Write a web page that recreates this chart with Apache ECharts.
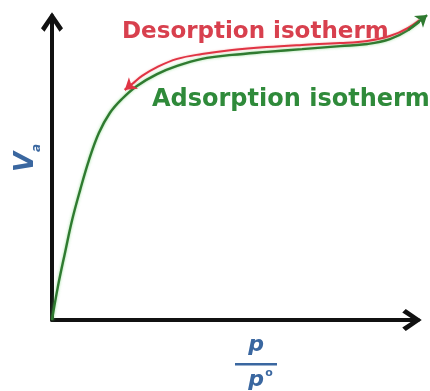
<!DOCTYPE html>
<html>
<head>
<meta charset="utf-8">
<script src="https://cdn.jsdelivr.net/npm/echarts@6/dist/echarts.min.js"></script>
<style>
  html, body { margin: 0; padding: 0; background: #ffffff; }
  #chart { width: 430px; height: 391px; }
</style>
</head>
<body>
<div id="chart"></div>
<script>
// Relative pressure p/p° (x) and adsorbed volume Va (y), both normalised to the axis length.
const adsorptionX = [0, 0.016, 0.036, 0.055, 0.077, 0.101, 0.128, 0.158, 0.191, 0.232, 0.287, 0.342, 0.410, 0.492, 0.587, 0.683, 0.787, 0.861, 0.923, 0.973, 1.025];
const adsorptionY = [0, 0.109, 0.224, 0.329, 0.428, 0.526, 0.615, 0.681, 0.727, 0.770, 0.809, 0.836, 0.859, 0.872, 0.882, 0.891, 0.901, 0.908, 0.924, 0.954, 1.003];

// Desorption branch, traced from saturation back down towards low pressure.
const desorptionX = [1.025, 0.973, 0.923, 0.861, 0.787, 0.683, 0.587, 0.492, 0.410, 0.342, 0.287, 0.246, 0.219, 0.199];
const desorptionY = [1.007, 0.961, 0.934, 0.918, 0.911, 0.905, 0.898, 0.888, 0.875, 0.859, 0.832, 0.803, 0.776, 0.757];

const seriesNames = ['Adsorption isotherm', 'Desorption isotherm'];
const axisNameY = ['V', 'a'];
const axisNameX = ['p', 'p', 'o'];

const GREEN_LINE = '#2f7a30';
const GREEN_TEXT = '#2f8a3a';
const RED_LINE = '#e03444';
const RED_TEXT = '#d8404e';
const BLUE = '#3a67a0';

const zip = (xs, ys) => xs.map((x, i) => [x, ys[i]]);
const adsorption = zip(adsorptionX, adsorptionY);
const desorption = zip(desorptionX, desorptionY);
// arrow heads sit on the last segment of each branch
const tail = pts => [{ coords: [pts[pts.length - 2], pts[pts.length - 1]] }];

// open chevron used as the axis arrow head
const chevron = 'path://M0,16 L11,0 L22,16 L18.5,19.5 L11,8 L3.5,19.5 Z';

const chart = echarts.init(document.getElementById('chart'), null, { renderer: 'canvas' });

const axisCommon = {
  type: 'value',
  min: 0,
  max: 1,
  axisLine: {
    show: true,
    onZero: false,
    symbol: ['none', chevron],
    symbolSize: [22, 20],
    symbolOffset: [0, -6],
    lineStyle: { color: '#111111', width: 4 }
  },
  axisTick: { show: false },
  axisLabel: { show: false },
  splitLine: { show: false }
};

chart.setOption({
  backgroundColor: '#ffffff',
  animation: false,
  grid: { left: 52, right: 12, top: 16, bottom: 71 },
  xAxis: Object.assign({}, axisCommon),
  yAxis: Object.assign({}, axisCommon),
  series: [
    {
      name: seriesNames[0],
      type: 'line',
      data: adsorption,
      smooth: 0.4,
      showSymbol: false,
      clip: false,
      z: 3,
      lineStyle: {
        color: GREEN_LINE, width: 2.4,
        shadowColor: 'rgba(110, 210, 110, 0.7)', shadowBlur: 3
      }
    },
    {
      name: seriesNames[1],
      type: 'line',
      data: desorption,
      smooth: 0.4,
      showSymbol: false,
      clip: false,
      z: 4,
      lineStyle: {
        color: RED_LINE, width: 2,
        shadowColor: 'rgba(240, 140, 140, 0.6)', shadowBlur: 2
      }
    },
    {
      type: 'lines',
      coordinateSystem: 'cartesian2d',
      clip: false,
      silent: true,
      z: 5,
      symbol: ['none', 'arrow'],
      symbolSize: [9, 11],
      lineStyle: { color: GREEN_LINE, width: 2.4, opacity: 1 },
      data: tail(adsorption)
    },
    {
      type: 'lines',
      coordinateSystem: 'cartesian2d',
      clip: false,
      silent: true,
      z: 6,
      symbol: ['none', 'arrow'],
      symbolSize: [9, 11],
      lineStyle: { color: RED_LINE, width: 2, opacity: 1 },
      data: tail(desorption)
    }
  ],
  graphic: [
    {
      type: 'text', x: 122, y: 32, z: 10,
      style: {
        text: seriesNames[1], fill: RED_TEXT,
        font: 'bold 23px "DejaVu Sans"', align: 'left', verticalAlign: 'middle'
      }
    },
    {
      type: 'text', x: 152, y: 100, z: 10,
      style: {
        text: seriesNames[0], fill: GREEN_TEXT,
        font: 'bold 24px "DejaVu Sans"', align: 'left', verticalAlign: 'middle'
      }
    },
    {
      type: 'text', x: 26, y: 158, rotation: Math.PI / 2, z: 10,
      style: {
        text: '{v|' + axisNameY[0] + '}{s|' + axisNameY[1] + '}',
        align: 'center', verticalAlign: 'middle',
        rich: {
          v: { font: 'italic bold 26px "DejaVu Sans"', fill: BLUE, verticalAlign: 'bottom' },
          s: { font: 'italic bold 12px "DejaVu Sans"', fill: BLUE, verticalAlign: 'bottom', padding: [0, 0, -4, 0] }
        }
      }
    },
    {
      type: 'group', z: 10,
      children: [
        {
          type: 'text', x: 256, y: 345,
          style: {
            text: axisNameX[0], fill: BLUE,
            font: 'italic bold 22px "DejaVu Sans"', align: 'center', verticalAlign: 'middle'
          }
        },
        {
          type: 'rect', shape: { x: 235, y: 363, width: 42, height: 2.6 },
          style: { fill: BLUE }
        },
        {
          type: 'text', x: 256, y: 380,
          style: {
            text: axisNameX[1], fill: BLUE,
            font: 'italic bold 22px "DejaVu Sans"', align: 'center', verticalAlign: 'middle'
          }
        },
        {
          type: 'text', x: 269, y: 373,
          style: {
            text: axisNameX[2], fill: BLUE,
            font: 'bold 11px "DejaVu Sans"', align: 'center', verticalAlign: 'middle'
          }
        }
      ]
    }
  ]
});
</script>
</body>
</html>
